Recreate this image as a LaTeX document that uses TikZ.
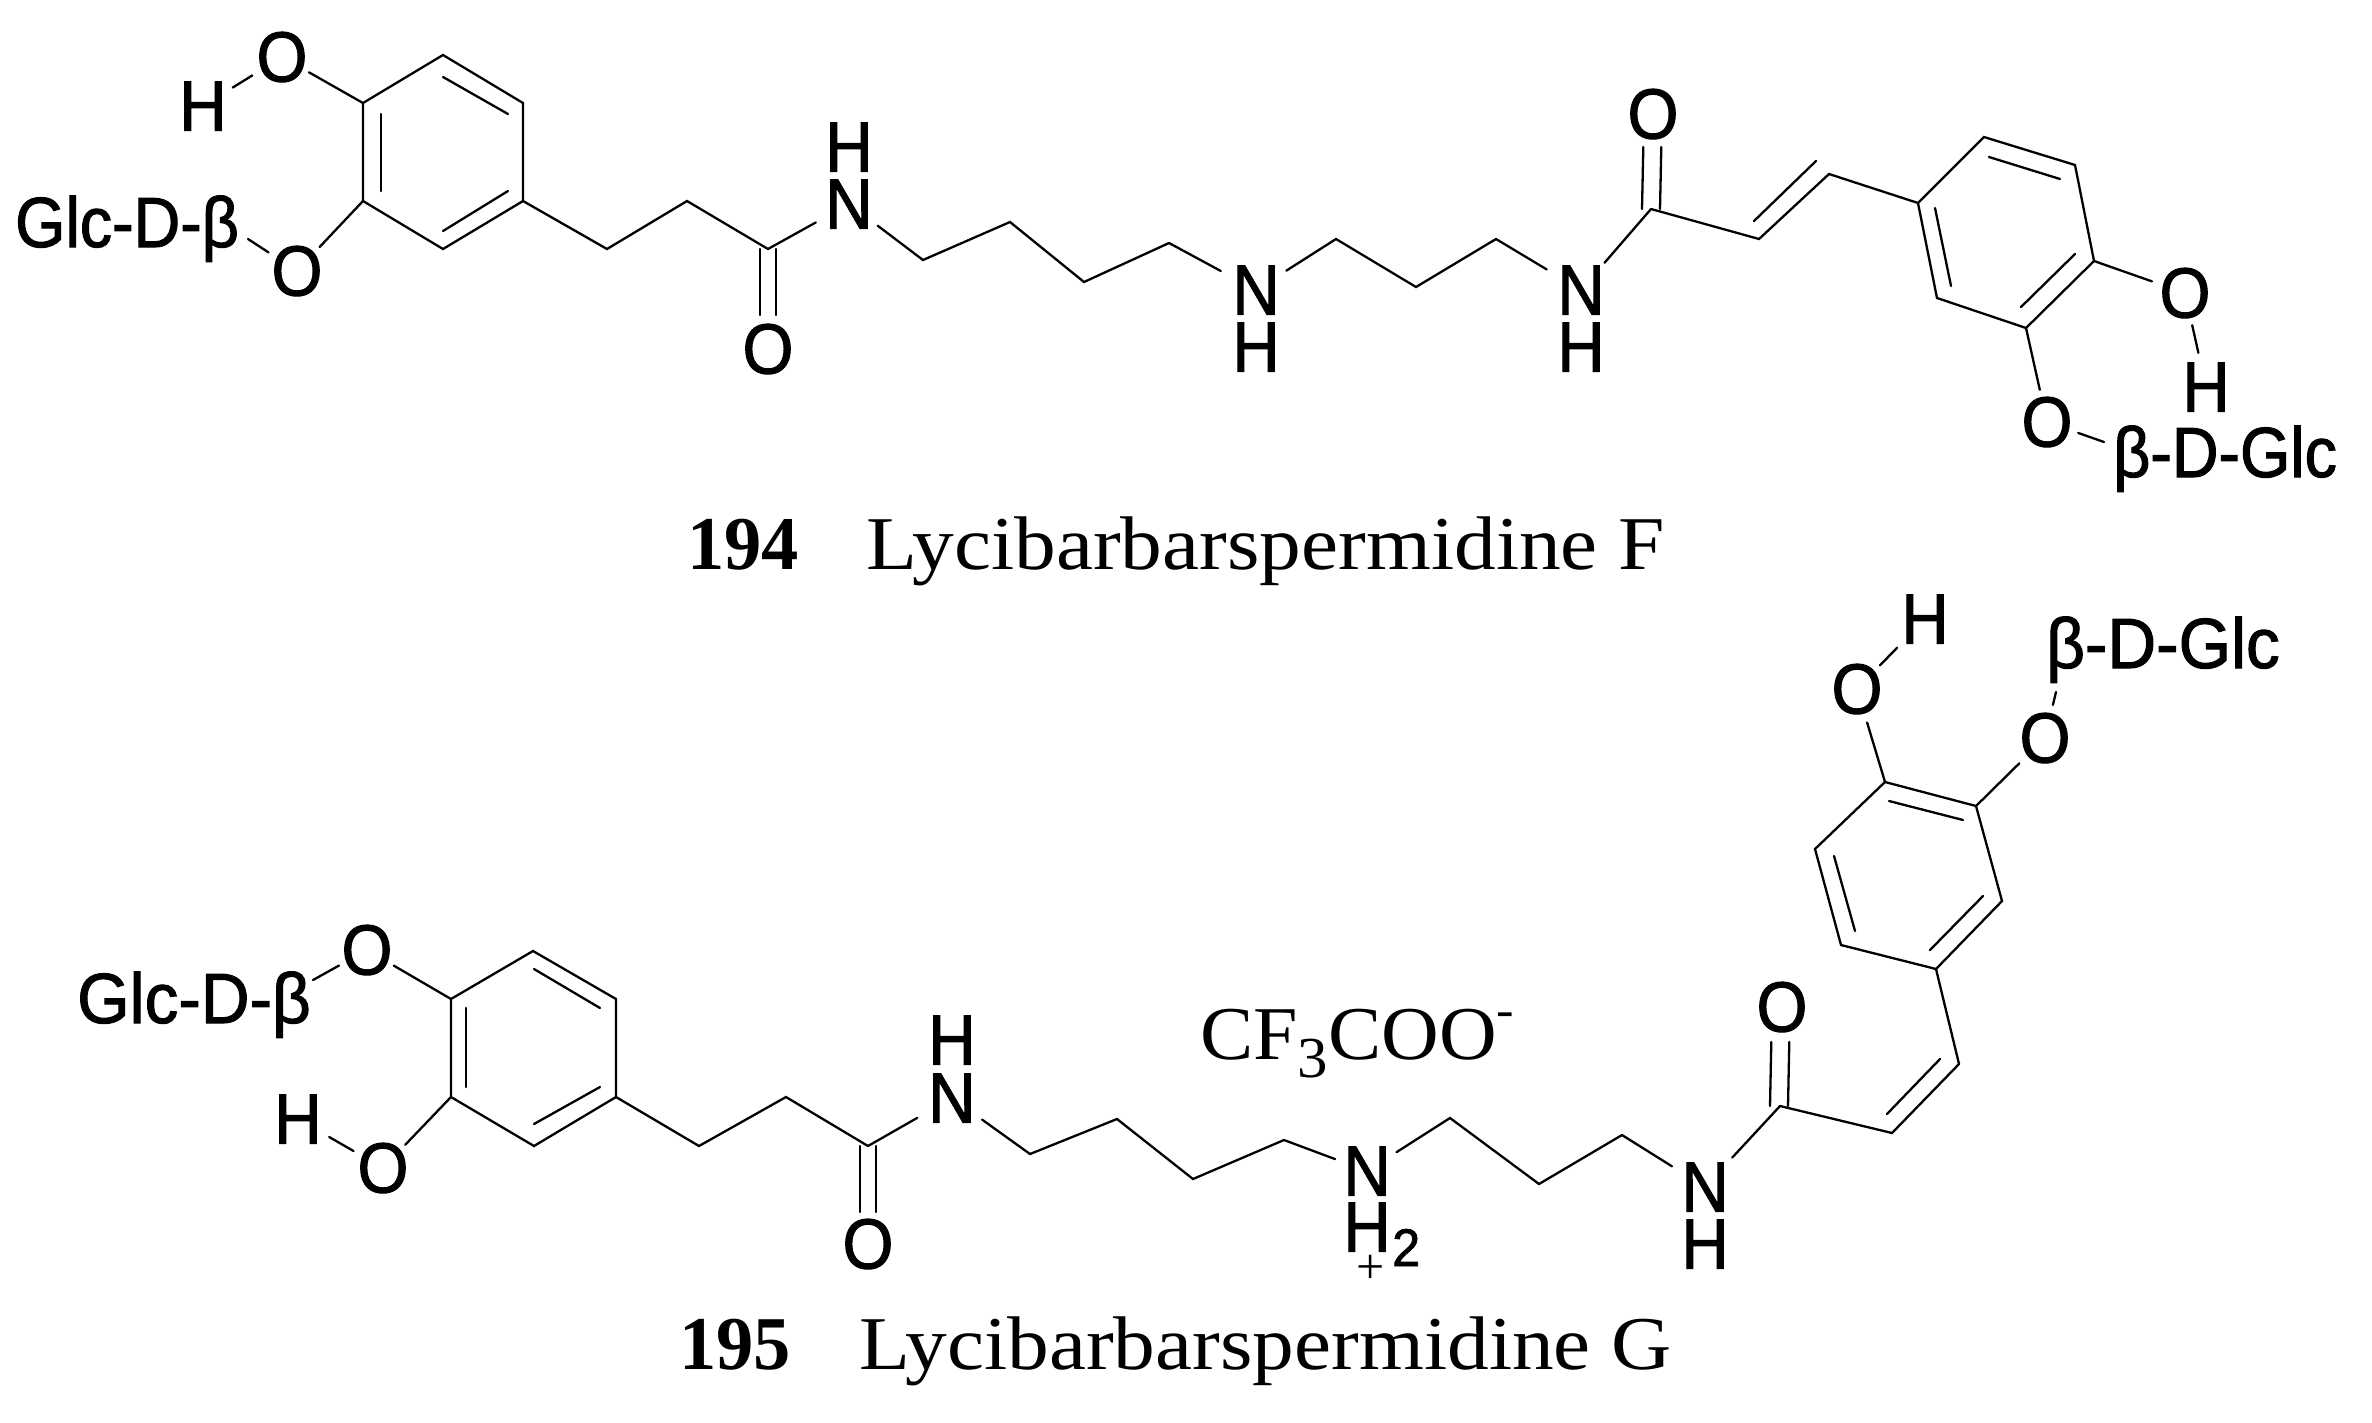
\documentclass[tikz,border=0pt]{standalone}
\usepackage{fontspec}
\setmainfont{Liberation Serif}
\newfontfamily\chemfont[FakeStretch=0.92,FakeBold=1.5]{Liberation Sans}
\newfontfamily\sugartop[FakeStretch=0.91,FakeBold=1.5]{Liberation Sans}
\newfontfamily\sugarlow[FakeStretch=0.95,FakeBold=1.5]{Liberation Sans}
\newfontfamily\capfont[FakeStretch=1.097]{Liberation Serif}
\newfontfamily\anionfont[FakeStretch=1.05]{Liberation Serif}
\newfontfamily\capbold[FakeStretch=0.98]{Liberation Serif Bold}
\usetikzlibrary{calc}
\tikzset{
  bond/.style={line width=2.3pt,line cap=round,line join=miter},
  atom/.style={font=\chemfont\fontsize{71}{71}\selectfont,inner sep=0pt,text height=49pt,text depth=0pt},
  sugar/.style={font=\sugartop\fontsize{71}{71}\selectfont,inner sep=0pt,anchor=base west},
  sugarb/.style={font=\sugarlow\fontsize{71}{71}\selectfont,inner sep=0pt,anchor=base west},
  captext/.style={font=\capfont\fontsize{76}{76}\selectfont,inner sep=0pt,anchor=base west},
  capnum/.style={font=\capbold\fontsize{76}{76}\selectfont,inner sep=0pt,anchor=base west},
  toend/.style={shorten >=#1},
  fromstart/.style={shorten <=#1}
}
\newcommand{\innerbond}[3]{\coordinate (#1a) at (#2);\coordinate (#1b) at (#3);\draw[bond] (#1a) -- (#1b);}
\begin{document}
\begin{tikzpicture}[x=1pt,y=-1pt]
\useasboundingbox (0,0) rectangle (2372,1422);
% ===== 194 =====
\coordinate (a1) at (443,55);\coordinate (a2) at (523,103);\coordinate (a3) at (523,201);
\coordinate (a4) at (443,249);\coordinate (a5) at (363,201);\coordinate (a6) at (363,103);
\draw[bond] (a1)--(a2)--(a3)--(a4)--(a5)--(a6)--cycle;
\innerbond{ai1}{443,77}{508,114}
\innerbond{ai2}{381,114}{381,191}
\innerbond{ai3}{508,191}{443,231}
\node[atom] (ao1) at (282,57) {O};
\node[atom] (ah1) at (203,106) {H};
\node[atom] (ao2) at (297,271) {O};
\node[sugar] (ag) at (15,247) {Glc-D-β};
\coordinate (agb) at (248,239);
\draw[bond,toend=31pt] (a6)--(ao1.center);
\draw[bond,fromstart=35pt,toend=35pt] (ah1.center)--(ao1.center);
\draw[bond,toend=33pt] (a5)--(ao2.center);
\draw[bond,toend=34pt] (agb)--(ao2.center);
\coordinate (a7) at (607,249);\coordinate (a8) at (687,201);\coordinate (a9) at (768,249);
\draw[bond] (a3)--(a7)--(a8)--(a9);
\node[atom] (ao3) at (768,349) {O};
\draw[bond,toend=34pt] ([xshift=-8pt]a9)--([xshift=-8pt]ao3.center);
\draw[bond,toend=34pt] ([xshift=8pt]a9)--([xshift=8pt]ao3.center);
\node[atom] (an1) at (849,204) {N};
\node[atom] (anh1) at (849,147) {H};
\draw[bond,toend=38pt] (a9)--(an1.center);
\coordinate (a10) at (923,260);\coordinate (a11) at (1010,222);\coordinate (a12) at (1084,282);\coordinate (a13) at (1169,243);
\draw[bond,fromstart=36pt] (an1.center)--(a10)--(a11)--(a12)--(a13);
\node[atom] (an2) at (1256,290) {N};
\node[atom] (anh2) at (1256,347) {H};
\draw[bond,toend=40pt] (a13)--(an2.center);
\coordinate (a14) at (1336,239);\coordinate (a15) at (1416,287);\coordinate (a16) at (1496,239);
\draw[bond,fromstart=36pt] (an2.center)--(a14)--(a15)--(a16);
\node[atom] (an3) at (1581,290) {N};
\node[atom] (anh3) at (1581,347) {H};
\draw[bond,toend=40pt] (a16)--(an3.center);
\coordinate (a17) at (1651,209);
\draw[bond,fromstart=36pt] (an3.center)--(a17);
\node[atom] (ao4) at (1653,114) {O};
\draw[bond,toend=33pt] ([xshift=-9pt]a17)--([xshift=-9pt]ao4.center);
\draw[bond,toend=33pt] ([xshift=9pt]a17)--([xshift=9pt]ao4.center);
\coordinate (a18) at (1759,239);\coordinate (a19) at (1829,174);
\draw[bond] (a17)--(a18)--(a19);
\innerbond{ai4}{1754,221}{1816,161}
\coordinate (b1) at (1918,203);\coordinate (b2) at (1984,137);\coordinate (b3) at (2075,165);
\coordinate (b4) at (2094,261);\coordinate (b5) at (2026,328);\coordinate (b6) at (1937,298);
\draw[bond] (a19)--(b1);
\draw[bond] (b1)--(b2)--(b3)--(b4)--(b5)--(b6)--cycle;
\innerbond{bi1}{1989,157}{2060,179}
\innerbond{bi2}{1935,208}{1951,286}
\innerbond{bi3}{2075,254}{2021,307}
\node[atom] (bo1) at (2185,293) {O};
\node[atom] (bh1) at (2206,387) {H};
\node[atom] (bo2) at (2047,422) {O};
\node[sugar] (bg) at (2113,477) {β-D-Glc};
\coordinate (bgb) at (2104,442);
\draw[bond,toend=35pt] (b4)--(bo1.center);
\draw[bond,fromstart=33pt,toend=35pt] (bo1.center)--(bh1.center);
\draw[bond,toend=33pt] (b5)--(bo2.center);
\draw[bond,toend=33pt] (bgb)--(bo2.center);
\node[capnum] (n194) at (687,569) {194};
\node[captext] (t194) at (866,569) {Lycibarbarspermidine F};
% ===== 195 =====
\coordinate (c1) at (533,951);\coordinate (c2) at (616,999);\coordinate (c3) at (616,1097);
\coordinate (c4) at (534,1146);\coordinate (c5) at (451,1097);\coordinate (c6) at (451,999);
\draw[bond] (c1)--(c2)--(c3)--(c4)--(c5)--(c6)--cycle;
\innerbond{ci1}{534,969}{600,1008}
\innerbond{ci2}{466,1008}{466,1087}
\innerbond{ci3}{600,1087}{534,1124}
\node[atom] (co1) at (367,950) {O};
\node[atom] (co2) at (383,1168) {O};
\node[atom] (ch1) at (298,1119) {H};
\node[sugarb] (cg) at (77,1023) {Glc-D-β};
\coordinate (cgb) at (313,980);
\draw[bond,toend=31pt] (c6)--(co1.center);
\draw[bond,toend=32pt] (cgb)--(co1.center);
\draw[bond,toend=32pt] (c5)--(co2.center);
\draw[bond,fromstart=36pt,toend=34pt] (ch1.center)--(co2.center);
\coordinate (c7) at (699,1146);\coordinate (c8) at (786,1097);\coordinate (c9) at (868,1146);
\draw[bond] (c3)--(c7)--(c8)--(c9);
\node[atom] (co3) at (868,1244) {O};
\draw[bond,toend=32pt] ([xshift=-8pt]c9)--([xshift=-8pt]co3.center);
\draw[bond,toend=32pt] ([xshift=8pt]c9)--([xshift=8pt]co3.center);
\node[atom] (cn1) at (952,1098) {N};
\node[atom] (cnh1) at (952,1040) {H};
\draw[bond,toend=40pt] (c9)--(cn1.center);
\coordinate (c10) at (1030,1154);\coordinate (c11) at (1117,1119);\coordinate (c12) at (1193,1179);\coordinate (c13) at (1284,1140);
\draw[bond,fromstart=37pt] (cn1.center)--(c10)--(c11)--(c12)--(c13);
\node[atom] (cn2) at (1367,1171) {N};
\node[atom] (cnh2) at (1367,1227) {H};
\node[font=\sugarlow\fontsize{53}{53}\selectfont,inner sep=0pt,anchor=base west] (ctwo) at (1392,1266) {2};
\node[font=\fontsize{50}{50}\selectfont,inner sep=0pt,text height=26pt,text depth=0pt] (cplus) at (1371,1270) {+};
\draw[bond,toend=34pt] (c13)--(cn2.center);
\coordinate (c14) at (1450,1118);\coordinate (c15) at (1539,1184);\coordinate (c16) at (1622,1135);
\draw[bond,fromstart=35pt] (cn2.center)--(c14)--(c15)--(c16);
\node[atom] (cn3) at (1705,1187) {N};
\node[atom] (cnh3) at (1705,1244) {H};
\draw[bond,toend=39pt] (c16)--(cn3.center);
\coordinate (c17) at (1780,1106);
\draw[bond,fromstart=40pt] (cn3.center)--(c17);
\node[atom] (co4) at (1782,1007) {O};
\draw[bond,toend=35pt] ([xshift=-10pt]c17)--([xshift=-10pt]co4.center);
\draw[bond,toend=35pt] ([xshift=8pt]c17)--([xshift=8pt]co4.center);
\coordinate (c18) at (1892,1133);\coordinate (c19) at (1959,1064);
\draw[bond] (c17)--(c18)--(c19);
\innerbond{ci4}{1887,1114}{1940,1059}
\coordinate (d1) at (1936,969);\coordinate (d2) at (2002,901);\coordinate (d3) at (1976,806);
\coordinate (d4) at (1885,782);\coordinate (d5) at (1815,849);\coordinate (d6) at (1841,945);
\draw[bond] (c19)--(d1);
\draw[bond] (d1)--(d2)--(d3)--(d4)--(d5)--(d6)--cycle;
\innerbond{di1}{1930,950}{1983,896}
\innerbond{di2}{1963,820}{1889,801}
\innerbond{di3}{1834,856}{1855,931}
\node[atom] (do1) at (1857,689) {O};
\node[atom] (dh1) at (1925,619) {H};
\node[atom] (do2) at (2045,738) {O};
\node[sugarb] (dg) at (2046,668) {β-D-Glc};
\coordinate (dgb) at (2056,692);
\draw[bond,toend=35pt] (d4)--(do1.center);
\draw[bond,fromstart=40pt,toend=33pt] (dh1.center)--(do1.center);
\draw[bond,toend=36pt] (d3)--(do2.center);
\draw[bond,toend=34pt] (dgb)--(do2.center);
\node[font=\anionfont\fontsize{76}{76}\selectfont,inner sep=0pt,anchor=base west] (anion) at (1200,1059) {CF\raisebox{-18pt}{\fontsize{58}{58}\selectfont 3}COO\raisebox{33pt}{\fontsize{50}{50}\selectfont -}};
\node[capnum] (n195) at (679,1369) {195};
\node[captext] (t195) at (859,1369) {Lycibarbarspermidine G};
\end{tikzpicture}
\end{document}
